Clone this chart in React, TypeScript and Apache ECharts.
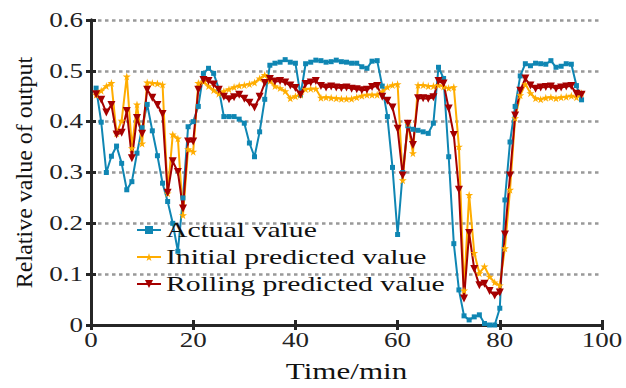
import React, { useEffect, useRef } from "react";
import * as echarts from "echarts";

const timeMin: number[] = Array.from({ length: 96 }, (_, i) => i + 1);

const actualValue: number[] = [
  0.466, 0.399, 0.3, 0.332, 0.352, 0.318, 0.266, 0.282, 0.338, 0.388,
  0.434, 0.382, 0.333, 0.279, 0.243, 0.2, 0.145, 0.25, 0.39, 0.4,
  0.43, 0.495, 0.505, 0.495, 0.465, 0.41, 0.41, 0.41, 0.405, 0.397,
  0.358, 0.331, 0.38, 0.444, 0.511, 0.515, 0.517, 0.522, 0.517, 0.515,
  0.452, 0.514, 0.517, 0.521, 0.52, 0.517, 0.518, 0.521, 0.518, 0.517,
  0.515, 0.515, 0.508, 0.505, 0.519, 0.52, 0.47, 0.41, 0.31, 0.178,
  0.3, 0.392, 0.385, 0.383, 0.38, 0.377, 0.397, 0.507, 0.485, 0.331,
  0.16, 0.069, 0.018, 0.01, 0.016, 0.02, 0.003, 0.0, 0.0, 0.033,
  0.246, 0.36, 0.43, 0.49, 0.514, 0.51, 0.515, 0.514, 0.513, 0.52,
  0.507, 0.509, 0.514, 0.513, 0.471, 0.443,
];

const initialPredicted: number[] = [
  0.453, 0.461, 0.47, 0.476, 0.377, 0.402, 0.489, 0.348, 0.434, 0.357,
  0.477, 0.476, 0.475, 0.473, 0.259, 0.375, 0.367, 0.216, 0.346, 0.341,
  0.476, 0.479, 0.47, 0.462, 0.455, 0.46, 0.464, 0.468, 0.471, 0.472,
  0.474, 0.477, 0.485, 0.492, 0.48, 0.47, 0.466, 0.46, 0.446, 0.45,
  0.453, 0.464, 0.465, 0.465, 0.447, 0.448, 0.447, 0.446, 0.445, 0.445,
  0.445, 0.448, 0.451, 0.453, 0.453, 0.453, 0.459, 0.468, 0.472, 0.474,
  0.285, 0.397, 0.338, 0.472, 0.472, 0.47, 0.47, 0.472, 0.469, 0.466,
  0.468, 0.351, 0.068, 0.256, 0.142, 0.102, 0.115, 0.095, 0.084, 0.078,
  0.151, 0.266, 0.407, 0.452, 0.474, 0.456, 0.446, 0.444, 0.447, 0.448,
  0.446, 0.448, 0.449, 0.451, 0.448, 0.456,
];

const rollingPredicted: number[] = [
  0.454, 0.443, 0.418, 0.433, 0.375, 0.378, 0.421, 0.328, 0.407, 0.376,
  0.463, 0.447, 0.433, 0.415, 0.26, 0.322, 0.301, 0.229, 0.361, 0.361,
  0.463, 0.482, 0.48, 0.473, 0.463, 0.449, 0.444, 0.448, 0.453, 0.445,
  0.437, 0.428, 0.449, 0.476, 0.484, 0.479, 0.48, 0.477, 0.471, 0.466,
  0.453, 0.474, 0.477, 0.48, 0.47, 0.467, 0.469, 0.467, 0.466, 0.467,
  0.465, 0.464, 0.462, 0.463, 0.468, 0.47, 0.449, 0.441, 0.428, 0.386,
  0.294, 0.396, 0.354, 0.446, 0.446, 0.445, 0.448, 0.48, 0.475, 0.426,
  0.374, 0.266, 0.052, 0.181, 0.11, 0.078, 0.081, 0.067, 0.058, 0.064,
  0.178, 0.294, 0.412, 0.461, 0.485, 0.471, 0.465, 0.467, 0.468, 0.469,
  0.465, 0.467, 0.469, 0.47, 0.455, 0.453,
];

const seriesNames: string[] = ["Actual value", "Initial predicted value", "Rolling predicted value"];
const xTicks: number[] = [0, 20, 40, 60, 80, 100];
const yTicks: number[] = [0, 0.1, 0.2, 0.3, 0.4, 0.5, 0.6];

const STAR =
  "path://M50,0 L61,35 L98,35 L68,57 L79,91 L50,70 L21,91 L32,57 L2,35 L39,35 Z";

// the reference texts are drawn horizontally wider than normal serif glyphs
const TEXT_STRETCH = 1.35;

export default function App() {
  const ref = useRef<HTMLDivElement>(null);

  useEffect(() => {
    if (!ref.current) return;
    const chart = echarts.init(ref.current, null, { renderer: "svg" });
    const frameColor = "#262626";
    const fontFamily = "'Liberation Serif', 'Times New Roman', serif";
    const pair = (ys: number[]) => timeMin.map((x, i) => [x, ys[i]]);

    const axisLine = { show: true, lineStyle: { color: frameColor, width: 3 } };
    const axisTick = { show: true, inside: true, length: 5, lineStyle: { color: frameColor, width: 3 } };

    chart.setOption({
      animation: false,
      backgroundColor: "#ffffff",
      textStyle: { fontFamily },
      grid: { left: 91, right: 24, top: 20, bottom: 63, containLabel: false },
      legend: {
        orient: "vertical",
        left: 136,
        top: 219,
        padding: 0,
        itemWidth: 24,
        itemHeight: 10,
        itemGap: 5,
        data: seriesNames,
        textStyle: { fontFamily, fontSize: 22, color: "#111" },
        symbolRotate: "inherit",
      },
      xAxis: [
        {
          type: "value",
          position: "bottom",
          min: xTicks[0],
          max: xTicks[xTicks.length - 1],
          interval: 20,
          name: "Time/min",
          nameLocation: "middle",
          nameGap: 35,
          nameTextStyle: { fontFamily, fontSize: 23, color: "#111" },
          axisLine,
          axisTick,
          axisLabel: { fontFamily, fontSize: 20, color: "#222", margin: 5 },
          splitLine: { show: false },
        },
        {
          type: "value",
          position: "top",
          min: xTicks[0],
          max: xTicks[xTicks.length - 1],
          interval: 20,
          axisLine,
          axisTick,
          axisLabel: { show: false },
          splitLine: { show: false },
        },
      ],
      yAxis: [
        {
          type: "value",
          position: "left",
          min: yTicks[0],
          max: yTicks[yTicks.length - 1],
          interval: 0.1,
          name: "Relative value of output",
          nameLocation: "middle",
          nameGap: 55,
          nameTextStyle: { fontFamily, fontSize: 24, color: "#111" },
          axisLine,
          axisTick,
          axisLabel: {
            fontFamily,
            fontSize: 20,
            color: "#222",
            margin: 8,
            formatter: (v: number) => (v === 0 ? "0" : v.toFixed(1)),
          },
          splitLine: {
            show: true,
            lineStyle: { color: "#999", width: 2.5, type: [3.5, 3.5] },
          },
        },
        {
          type: "value",
          position: "right",
          min: yTicks[0],
          max: yTicks[yTicks.length - 1],
          interval: 0.1,
          axisLine,
          axisTick,
          axisLabel: { show: false },
          splitLine: { show: false },
        },
      ],
      series: [
        {
          name: seriesNames[0],
          type: "line",
          data: pair(actualValue),
          symbol: "rect",
          symbolSize: 5,
          showAllSymbol: true,
          color: "#0F86B3",
          lineStyle: { width: 2, color: "#0F86B3" },
          itemStyle: { color: "#0F86B3" },
        },
        {
          name: seriesNames[1],
          type: "line",
          data: pair(initialPredicted),
          symbol: STAR,
          symbolSize: 8,
          showAllSymbol: true,
          color: "#FFAD00",
          lineStyle: { width: 2, color: "#FFAD00" },
          itemStyle: { color: "#FFAD00" },
        },
        {
          name: seriesNames[2],
          type: "line",
          data: pair(rollingPredicted),
          symbol: "triangle",
          symbolRotate: 180,
          symbolSize: 8,
          showAllSymbol: true,
          color: "#A50000",
          lineStyle: { width: 2, color: "#A50000" },
          itemStyle: { color: "#A50000" },
        },
      ],
    });

    const stretchTexts = () => {
      const root = ref.current;
      if (!root) return;
      root.querySelectorAll("text").forEach((t) => {
        if (t.getAttribute("data-stretched")) return;
        const m = (t as SVGTextElement).getCTM();
        if (m && Math.abs(m.b) > 0.1) return; // leave rotated text as is
        const x = parseFloat(t.getAttribute("x") || "0") || 0;
        const y = parseFloat(t.getAttribute("y") || "0") || 0;
        const tr = t.getAttribute("transform") || "";
        t.setAttribute(
          "transform",
          `${tr} translate(${x} ${y}) scale(${TEXT_STRETCH} 1) translate(${-x} ${-y})`.trim()
        );
        t.setAttribute("data-stretched", "1");
      });
    };
    stretchTexts();
    chart.on("finished", stretchTexts);
    const timer = window.setTimeout(stretchTexts, 50);

    return () => {
      window.clearTimeout(timer);
      chart.dispose();
    };
  }, []);

  return (
    <div
      ref={ref}
      style={{ position: "absolute", left: 0, top: 0, width: 626, height: 388 }}
    />
  );
}
